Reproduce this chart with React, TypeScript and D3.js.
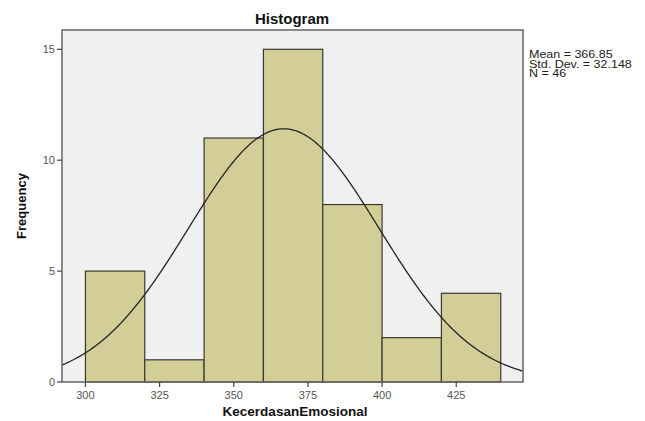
import React from "react";
import * as d3 from "d3";

const binStarts = [300, 320, 340, 360, 380, 400, 420];
const binWidth = 20;
const counts = [5, 1, 11, 15, 8, 2, 4];
const xTicks = [300, 325, 350, 375, 400, 425];
const yTicks = [0, 5, 10, 15];
const mean = 366.85;
const sd = 32.148;
const n = 46;
const statsLines = ["Mean = 366.85", "Std. Dev. = 32.148", "N = 46"];

const W = 645, H = 421;
const left = 62, right = 523, top = 30, bottom = 382;

export default function App() {
  const x = d3.scaleLinear().domain([292.1, 447.5]).range([left, right]);
  const y = d3.scaleLinear().domain([0, 15.87]).range([bottom, top]);
  const pdf = (v: number) =>
    (n * binWidth) / (sd * Math.sqrt(2 * Math.PI)) * Math.exp(-0.5 * ((v - mean) / sd) ** 2);
  const xs = d3.range(292.1, 447.5, 0.5).concat([447.5]);
  const line = d3.line<number>().x((v) => x(v)).y((v) => y(pdf(v))).curve(d3.curveBasis);
  const font = "Liberation Sans, Arial, sans-serif";
  return (
    <svg width={W} height={H} style={{ position: "absolute", left: 0, top: 0, background: "#fff" }}>
      <rect x={left} y={top} width={right - left} height={bottom - top} fill="#f0f0f0" />
      {binStarts.map((b, i) => (
        <rect key={i} x={x(b)} y={y(counts[i])} width={x(b + binWidth) - x(b)} height={y(0) - y(counts[i])}
          fill="#d3ce98" stroke="#3a3a30" strokeWidth={1.2} />
      ))}
      <defs>
        <clipPath id="pc"><rect x={left} y={top} width={right - left} height={bottom - top} /></clipPath>
      </defs>
      <path d={line(xs) || ""} fill="none" stroke="#222" strokeWidth={1.3} clipPath="url(#pc)" />
      <rect x={left} y={top} width={right - left} height={bottom - top} fill="none" stroke="#666" strokeWidth={1.5} />
      {yTicks.map((t) => (
        <g key={t}>
          <line x1={left - 5} x2={left} y1={y(t)} y2={y(t)} stroke="#444" strokeWidth={1.2} />
          <text x={left - 7} y={y(t) + 4} textAnchor="end" fontFamily={font} fontSize={11} fill="#555">{t}</text>
        </g>
      ))}
      {xTicks.map((t) => (
        <g key={t}>
          <line x1={x(t)} x2={x(t)} y1={bottom} y2={bottom + 5} stroke="#444" strokeWidth={1.2} />
          <text x={x(t)} y={bottom + 17} textAnchor="middle" fontFamily={font} fontSize={11} fill="#555">{t}</text>
        </g>
      ))}
      <text x={292} y={24} textAnchor="middle" fontFamily={font} fontSize={15} fontWeight="bold" fill="#111">Histogram</text>
      <text x={295} y={416} textAnchor="middle" fontFamily={font} fontSize={13.5} fontWeight="bold" fill="#111">KecerdasanEmosional</text>
      <text transform={`translate(26,206) rotate(-90)`} textAnchor="middle" fontFamily={font} fontSize={13} fontWeight="bold" fill="#111">Frequency</text>
      {statsLines.map((s, i) => (
        <text key={i} transform={`translate(529,${58 + i * 9.5}) scale(1.25,1)`} fontFamily={font} fontSize={10} fill="#222">{s}</text>
      ))}
    </svg>
  );
}
